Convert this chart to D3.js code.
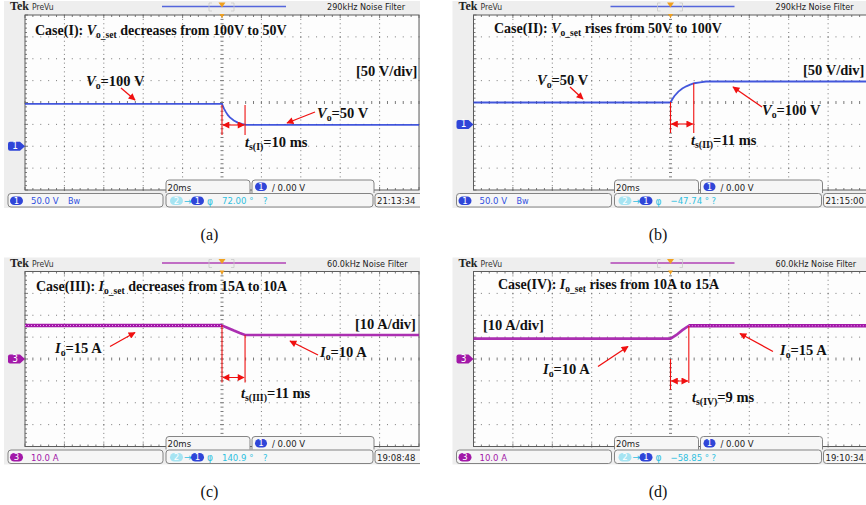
<!DOCTYPE html>
<html>
<head>
<meta charset="utf-8">
<script src="https://cdn.jsdelivr.net/npm/d3@7"></script>
<style>
  body { margin: 0; background: #fff; }
  svg { display: block; }
</style>
</head>
<body>
<script>
// waveforms (time in ms, 0 = trigger)
const timeI   = [-100, 0, 1, 2, 3, 4, 6, 8, 10, 12, 100];
const voltI   = [97, 97, 86, 78, 71, 66, 59, 54, 51, 49, 49];
const timeII  = [-100, 0, 1, 2, 4, 6, 8, 10, 12, 15, 18, 100];
const voltII  = [50, 50, 58, 65, 75, 82, 87, 91, 94, 96, 98, 98];
const timeIII = [-100, 0, 3, 6, 9, 11.7, 100];
const currIII = [15.3, 15.3, 14.2, 13, 11.9, 11, 11];
const timeIV  = [-100, 0, 3, 6, 9.3, 100];
const currIV  = [9.3, 9.3, 11, 13.2, 15.2, 15.2];

// settling cursor position (ms) and scope readouts
const cursorT   = [11.7, 11.8, 11.7, 9.3];
const captions  = ["(a)", "(b)", "(c)", "(d)"];
const filters   = ["290kHz", "290kHz", "60.0kHz", "60.0kHz"];
const phases    = ["72.00 °", "\u221247.74 °", "140.9 °", "\u221258.85 °"];
const clocks    = ["21:13:34", "21:15:00", "19:08:48", "19:10:34"];
const scales    = ["50.0 V", "50.0 V", "10.0 A", "10.0 A"];

const W = 866, H = 505;
const svg = d3.select("body").append("svg").attr("width", W).attr("height", H);

const BLUE = "#2f45d8", PURPLE = "#a218a8", RED = "#f01010";
const SERIF = "'Liberation Serif', 'Times New Roman', serif";
const NARROW = "'Liberation Sans Narrow', 'DejaVu Sans Condensed', 'Liberation Sans', sans-serif";

const panels = [
  {
    ox: 0, oy: 0, t: timeI, v: voltI, color: BLUE, ch: "1", perDiv: 50, groundDiv: -2,
    title: [{s: "Case(I): "}, {s: "V", i: 1}, {s: "o_set", sub: 1}, {s: " decreases from 100V to 50V"}],
    titleXY: [35, 35],
    div: "[50 V/div]", divXY: [356, 76],
    l1: [{s: "V", i: 1}, {s: "o", sub: 1}, {s: "=100 V"}], l1XY: [86, 86], a1: [121, 88, 135, 100],
    l2: [{s: "V", i: 1}, {s: "o", sub: 1}, {s: "=50 V"}], l2XY: [317, 118], a2: [315, 112, 287, 123],
    ts: [{s: "t", i: 1}, {s: "s(I)", sub: 1}, {s: "=10 ms"}], tsXY: [245, 147],
    cur: {left: [105, 135], right: [105, 135], arrowY: 125}
  },
  {
    ox: 448.5, oy: 0, t: timeII, v: voltII, color: BLUE, ch: "1", perDiv: 50, groundDiv: -1,
    title: [{s: "Case(II): "}, {s: "V", i: 1}, {s: "o_set", sub: 1}, {s: " rises from 50V to 100V"}],
    titleXY: [45.5, 33],
    div: "[50 V/div]", divXY: [354.5, 75],
    l1: [{s: "V", i: 1}, {s: "o", sub: 1}, {s: "=50 V"}], l1XY: [88.5, 85], a1: [121.5, 87, 134.5, 99],
    l2: [{s: "V", i: 1}, {s: "o", sub: 1}, {s: "=100 V"}], l2XY: [313.5, 115], a2: [313.5, 107, 284.5, 87],
    ts: [{s: "t", i: 1}, {s: "s(II)", sub: 1}, {s: "=11 ms"}], tsXY: [242.5, 145],
    cur: {left: [102, 133], right: [83, 133], arrowY: 124}
  },
  {
    ox: 0, oy: 256.5, t: timeIII, v: currIII, color: PURPLE, ch: "3", perDiv: 10, groundDiv: 0, ripple: true,
    title: [{s: "Case(III): "}, {s: "I", i: 1}, {s: "o_set", sub: 1}, {s: " decreases from 15A to 10A"}],
    titleXY: [36, 34.5],
    div: "[10 A/div]", divXY: [355, 72.5],
    l1: [{s: "I", i: 1}, {s: "o", sub: 1}, {s: "=15 A"}], l1XY: [55, 96.5], a1: [110, 90, 135, 76],
    l2: [{s: "I", i: 1}, {s: "o", sub: 1}, {s: "=10 A"}], l2XY: [320, 100], a2: [318, 98.5, 290, 84.5],
    ts: [{s: "t", i: 1}, {s: "s(III)", sub: 1}, {s: "=11 ms"}], tsXY: [241, 141],
    cur: {left: [68.5, 126], right: [78.5, 126], arrowY: 121}
  },
  {
    ox: 448.5, oy: 256.5, t: timeIV, v: currIV, color: PURPLE, ch: "3", perDiv: 10, groundDiv: 0, ripple: true,
    title: [{s: "Case(IV): "}, {s: "I", i: 1}, {s: "o_set", sub: 1}, {s: " rises from 10A to 15A"}],
    titleXY: [49.5, 32.5],
    div: "[10 A/div]", divXY: [34.5, 73.5],
    l1: [{s: "I", i: 1}, {s: "o", sub: 1}, {s: "=10 A"}], l1XY: [94.5, 117], a1: [149.5, 110, 179.5, 90],
    l2: [{s: "I", i: 1}, {s: "o", sub: 1}, {s: "=15 A"}], l2XY: [331.5, 98.5], a2: [324.5, 95, 291.5, 77],
    ts: [{s: "t", i: 1}, {s: "s(IV)", sub: 1}, {s: "=9 ms"}], tsXY: [243.5, 145],
    cur: {left: [102.5, 133.5], right: [69.5, 126.5], arrowY: 124.5}
  }
];

const defs = svg.append("defs");
defs.append("marker").attr("id", "ah")
  .attr("viewBox", "0 0 10 10").attr("refX", 9).attr("refY", 5)
  .attr("markerWidth", 8).attr("markerHeight", 7).attr("orient", "auto-start-reverse")
  .attr("markerUnits", "userSpaceOnUse")
  .append("path").attr("d", "M0,0 L10,5 L0,10 z").attr("fill", RED);

// grid box in panel-local pixels
const GX0 = 25, GX1 = 419, GY0 = 15, GY1 = 190;

function richText(g, segs, x, y, size) {
  const t = g.append("text").attr("x", x).attr("y", y)
    .attr("font-family", SERIF).attr("font-weight", "bold").attr("font-size", size).attr("fill", "#111");
  let down = false;
  segs.forEach(sg => {
    const ts = t.append("tspan").text(sg.s);
    if (sg.i) ts.attr("font-style", "italic");
    if (sg.sub) { ts.attr("font-size", size * 0.68).attr("dy", 3); down = true; }
    else if (down) { ts.attr("dy", -3); down = false; }
  });
  return t;
}

function pill(g, x, y, w, h, fill, label, pointer) {
  const r = pointer ? 2 : h / 2;
  let d = `M${x + r},${y} H${x + w - 2} `;
  if (pointer) d += `L${x + w + 3},${y + h / 2} L${x + w - 2},${y + h} `;
  else d = `M${x + r},${y} H${x + w - r} A${r},${r} 0 0 1 ${x + w - r},${y + h} `;
  d += `H${x + r} A${r},${r} 0 0 1 ${x},${y + h - r} V${y + r} A${r},${r} 0 0 1 ${x + r},${y} Z`;
  if (!pointer) d = `M${x + r},${y} H${x + w - r} A${r},${r} 0 0 1 ${x + w - r},${y + h} H${x + r} A${r},${r} 0 0 1 ${x + r},${y} Z`;
  g.append("path").attr("d", d).attr("fill", fill);
  g.append("text").attr("x", x + w / 2).attr("y", y + h - 1.5)
    .attr("text-anchor", "middle").attr("font-family", NARROW)
    .attr("font-size", h + 1).attr("fill", "#fff").text(label);
}

panels.forEach((p, k) => {
  const clipId = "clip" + k;
  defs.append("clipPath").attr("id", clipId)
    .append("rect").attr("x", 0).attr("y", 0).attr("width", 420).attr("height", 212);

  const g = svg.append("g").attr("transform", `translate(${p.ox},${p.oy})`)
    .attr("clip-path", `url(#${clipId})`);

  const x = d3.scaleLinear().domain([-100, 100]).range([GX0, GX1]);
  const y = d3.scaleLinear()
    .domain([(-4 - p.groundDiv) * p.perDiv, (4 - p.groundDiv) * p.perDiv])
    .range([GY1, GY0]);

  // screen frame
  g.append("rect").attr("x", 4).attr("y", 1).attr("width", 430).attr("height", 207).attr("fill", "#eeeeee");
  g.append("rect").attr("x", GX0).attr("y", GY0).attr("width", GX1 - GX0).attr("height", GY1 - GY0)
    .attr("fill", "#fdfdfd");

  // graticule
  const dx = (GX1 - GX0) / 10, dy = (GY1 - GY0) / 8;
  const grid = g.append("g").attr("fill", "#7a7a7a");
  for (let i = 1; i < 10; i++) {
    const gx = GX0 + i * dx;
    for (let j = 0; j <= 40; j++) {
      const gy = GY0 + j * dy / 5;
      const major = j % 5 === 0;
      if (i === 5) grid.append("rect").attr("x", gx - (major ? 2 : 1.5)).attr("y", gy - 0.5).attr("width", major ? 4 : 3).attr("height", 1);
      else grid.append("rect").attr("x", gx - 0.5).attr("y", gy - 0.5).attr("width", 1).attr("height", major ? 1.5 : 1);
    }
  }
  for (let j = 1; j < 8; j++) {
    const gy = GY0 + j * dy;
    for (let i = 0; i <= 50; i++) {
      const gx = GX0 + i * dx / 5;
      if (j === 4) grid.append("rect").attr("x", gx - 0.5).attr("y", gy - 1.5).attr("width", 1).attr("height", 3);
      else grid.append("rect").attr("x", gx - 0.5).attr("y", gy - 0.5).attr("width", 1).attr("height", 1);
    }
  }
  // border with ticks
  g.append("rect").attr("x", GX0).attr("y", GY0).attr("width", GX1 - GX0).attr("height", GY1 - GY0)
    .attr("fill", "none").attr("stroke", "#5c5c5c").attr("stroke-width", 1);
  for (let i = 0; i <= 50; i++) {
    const gx = GX0 + i * dx / 5, len = i % 5 === 0 ? 3 : 2;
    grid.append("rect").attr("x", gx - 0.5).attr("y", GY0).attr("width", 1).attr("height", len);
    grid.append("rect").attr("x", gx - 0.5).attr("y", GY1 - len).attr("width", 1).attr("height", len);
  }
  for (let j = 0; j <= 40; j++) {
    const gy = GY0 + j * dy / 5, len = j % 5 === 0 ? 3 : 2;
    grid.append("rect").attr("x", GX0).attr("y", gy - 0.5).attr("width", len).attr("height", 1);
  }

  // header
  g.append("text").attr("x", 10).attr("y", 10).attr("font-family", SERIF).attr("font-weight", "bold")
    .attr("font-size", 12).attr("fill", "#222").text("Tek");
  g.append("text").attr("x", 32).attr("y", 10).attr("font-family", NARROW)
    .attr("font-size", 8.5).attr("fill", "#333").text("PreVu");
  g.append("line").attr("x1", 162).attr("x2", 286).attr("y1", 6.5).attr("y2", 6.5)
    .attr("stroke", p.color).attr("stroke-width", 1.3).attr("opacity", 0.8);
  g.append("path").attr("d", "M212,3 H209 V11 H212 M231,3 H234 V11 H231")
    .attr("fill", "none").attr("stroke", "#c8c8c8").attr("stroke-width", 0.8);
  g.append("path").attr("d", `M${x(0) - 3.5},2.5 H${x(0) + 3.5} L${x(0)},7.5 Z`).attr("fill", "#f0a020");
  g.append("path").attr("d", `M${x(0) - 2.5},14 H${x(0) + 2.5} L${x(0)},18 Z`).attr("fill", "#f0a020");
  g.append("text").attr("x", 327).attr("y", 10).attr("font-family", NARROW)
    .attr("font-size", 9).attr("fill", "#222").text(filters[k] + "  Noise Filter");

  // channel ground marker
  pill(g, 8, y(0) - 4.5, 14, 9, p.color, p.ch, true);

  // waveform
  const pts = p.t.map((t, i) => [t, p.v[i]]);
  const line = d3.line().x(d => x(d[0])).y(d => y(d[1]));
  const wave = g.append("g");
  wave.append("path").datum(pts).attr("d", line).attr("fill", "none")
    .attr("stroke", p.color).attr("stroke-width", p.ripple ? 2.6 : 1.8).attr("opacity", 0.9);
  if (p.ripple) {
    // ripple texture on the high-current part
    const hi = d3.max(p.v);
    const hiPts = pts.filter(d => d[1] === hi);
    wave.append("path").datum(hiPts).attr("d", line).attr("fill", "none")
      .attr("stroke", p.color).attr("stroke-width", 3.6);
    wave.append("path").datum(hiPts).attr("d", line).attr("fill", "none")
      .attr("stroke", "#e9a0ea").attr("stroke-width", 1).attr("stroke-dasharray", "1,2");
  }

  // settling cursors
  const red = g.append("g").attr("stroke", RED).attr("stroke-width", 1.1);
  red.append("line").attr("x1", x(0)).attr("x2", x(0)).attr("y1", p.cur.left[0]).attr("y2", p.cur.left[1]);
  red.append("line").attr("x1", x(cursorT[k])).attr("x2", x(cursorT[k]))
    .attr("y1", p.cur.right[0]).attr("y2", p.cur.right[1]);
  red.append("line").attr("x1", x(0) + 1).attr("x2", x(cursorT[k]) - 1)
    .attr("y1", p.cur.arrowY).attr("y2", p.cur.arrowY)
    .attr("marker-start", "url(#ah)").attr("marker-end", "url(#ah)");

  // annotations
  richText(g, p.title, p.titleXY[0], p.titleXY[1], 14);
  richText(g, [{s: p.div}], p.divXY[0], p.divXY[1], 14.5);
  richText(g, p.l1, p.l1XY[0], p.l1XY[1], 14.5);
  richText(g, p.l2, p.l2XY[0], p.l2XY[1], 14.5);
  richText(g, p.ts, p.tsXY[0], p.tsXY[1], 14.5);
  [p.a1, p.a2].forEach(a => {
    g.append("line").attr("x1", a[0]).attr("y1", a[1]).attr("x2", a[2]).attr("y2", a[3])
      .attr("stroke", RED).attr("stroke-width", 1.3).attr("marker-end", "url(#ah)");
  });

  // readout boxes
  const box = (bx, by, bw, bh, top) => {
    const r = 3;
    const d = top
      ? `M${bx},${by + bh} V${by + r} Q${bx},${by} ${bx + r},${by} H${bx + bw - r} Q${bx + bw},${by} ${bx + bw},${by + r} V${by + bh}`
      : `M${bx + r},${by} H${bx + bw - r} Q${bx + bw},${by} ${bx + bw},${by + r} V${by + bh - r} Q${bx + bw},${by + bh} ${bx + bw - r},${by + bh} H${bx + r} Q${bx},${by + bh} ${bx},${by + bh - r} V${by + r} Q${bx},${by} ${bx + r},${by} Z`;
    g.append("path").attr("d", d).attr("fill", "#f6f6f6").attr("stroke", "#777").attr("stroke-width", 0.9);
  };
  box(166, 180, 84, 13, true);
  box(252, 180, 122, 13, true);
  g.append("text").attr("x", 167.5).attr("y", 190.5).attr("font-family", NARROW)
    .attr("font-size", 9.5).attr("fill", "#222").text("20ms");
  pill(g, 255, 182.5, 12, 8.5, BLUE, "1", false);
  g.append("text").attr("x", 272).attr("y", 190.5).attr("font-family", NARROW)
    .attr("font-size", 9.5).attr("fill", "#222").text("\u2215 0.00 V");

  box(8, 193.5, 155, 13.5, false);
  box(166, 193.5, 207, 13.5, false);
  box(375, 193.5, 80, 13.5, false);
  pill(g, 10, 196.5, 13, 8.5, p.color, p.ch, false);
  g.append("text").attr("x", 31).attr("y", 204).attr("font-family", NARROW)
    .attr("font-size", 9.5).attr("fill", p.color === BLUE ? "#3050e0" : PURPLE).text(scales[k]);
  if (p.color === BLUE) {
    g.append("text").attr("x", 68).attr("y", 204).attr("font-family", NARROW)
      .attr("font-size", 9).attr("fill", "#3050e0").text("B\u1d21");
  }
  pill(g, 170, 196.5, 13, 8.5, "#a6e4f2", "2", false);
  g.append("text").attr("x", 184).attr("y", 204.5).attr("font-family", NARROW)
    .attr("font-size", 10).attr("fill", "#30c0e0").text("\u2192");
  pill(g, 191, 196.5, 13, 8.5, BLUE, "1", false);
  g.append("text").attr("x", 207).attr("y", 204.5).attr("font-family", NARROW)
    .attr("font-size", 10).attr("fill", "#30c0e0").text("\u03c6");
  g.append("text").attr("x", 222).attr("y", 204).attr("font-family", NARROW)
    .attr("font-size", 9.5).attr("fill", "#30c0e0").text(phases[k]);
  g.append("text").attr("x", 263).attr("y", 204).attr("font-family", NARROW)
    .attr("font-size", 9.5).attr("fill", "#30c0e0").text("?");
  g.append("text").attr("x", 377).attr("y", 204).attr("font-family", NARROW)
    .attr("font-size", 9.5).attr("fill", "#222").text(clocks[k]);

  // caption
  svg.append("text").attr("x", p.ox + 209.5).attr("y", p.oy + 240).attr("text-anchor", "middle")
    .attr("font-family", SERIF).attr("font-size", 16).attr("fill", "#111").text(captions[k]);
});
</script>
</body>
</html>
